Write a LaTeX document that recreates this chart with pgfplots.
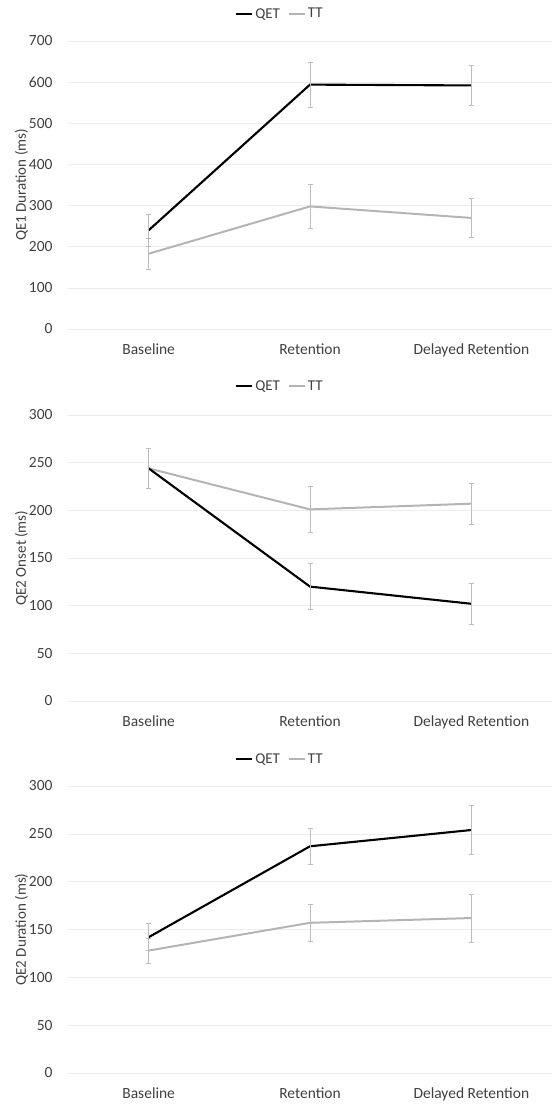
\documentclass[border=0pt]{standalone}
\usepackage{pgfplots}
\pgfplotsset{compat=1.18}
\usepackage{pgfplotstable}
\usepackage{fontspec}
\setmainfont{Carlito}
\definecolor{qet}{HTML}{000000}
\definecolor{tt}{HTML}{B4B4B4}
\definecolor{errc}{HTML}{BDBDBD}
\definecolor{gridc}{HTML}{EDEDED}
\definecolor{labc}{HTML}{404040}

\pgfplotstableread{
x y e
0 240 38
1 594 54
2 592 48
}\qeAqet
\pgfplotstableread{
x y e
0 183 37
1 298 54
2 270 48
}\qeAtt
\pgfplotstableread{
x y e
0 244 21
1 120 24
2 102 21.5
}\qeBqet
\pgfplotstableread{
x y e
0 244 21
1 201 24.5
2 207 21.5
}\qeBtt
\pgfplotstableread{
x y e
0 142 14
1 237 19
2 254 25.5
}\qeCqet
\pgfplotstableread{
x y e
0 128 13
1 157 19
2 162 25
}\qeCtt

\pgfplotsset{
  myaxis/.style={
    scale only axis,
    width=484pt, height=288pt,
    anchor=south west,
    xmin=-0.5, xmax=2.5,
    xtick={0,1,2},
    xticklabels={Baseline,Retention,Delayed Retention},
    ymin=0,
    axis line style={draw=none},
    major tick length=0pt,
    ymajorgrids,
    grid style={gridc, line width=0.6pt},
    tick label style={font=\fontsize{15.5}{17}\selectfont, text=labc},
    ylabel style={font=\fontsize{15}{17}\selectfont, text=labc},
    /pgf/number format/assume math mode=true,
    yticklabel style={xshift=-12pt},
    xticklabel style={yshift=-11pt},
    ylabel shift=-6pt,
    legend style={draw=none, fill=none, at={(axis description cs:0.438,1.094)}, anchor=center,
      font=\fontsize{15}{17}\selectfont, text=labc,
      inner sep=0pt, outer sep=0pt,
      /tikz/every even column/.append style={column sep=6pt}},
    legend columns=2,
    legend image code/.code={\draw[##1] (0pt,0pt) -- (16pt,0pt);},
    legend cell align=left,
    clip=false,
  },
  qetst/.style={qet, line width=2.1pt, no marks, forget plot,
    error bars/.cd, y dir=both, y explicit,
    error bar style={errc, line width=0.6pt},
    error mark options={errc, rotate=90, mark size=2.5pt, line width=0.6pt}},
  ttst/.style={tt, line width=2pt, no marks, forget plot,
    error bars/.cd, y dir=both, y explicit,
    error bar style={errc, line width=0.6pt},
    error mark options={errc, rotate=90, mark size=2.5pt, line width=0.6pt}},
}

\begin{document}
\begin{tikzpicture}
\useasboundingbox (0pt,0pt) rectangle (557pt,-1106pt);

\begin{axis}[myaxis, at={(68pt,-329pt)}, ymax=700, ytick={0,100,...,700},
  ylabel={QE1 Duration (ms)}]
\addplot[ttst] table[x=x,y=y,y error=e] {\qeAtt};
\addplot[qetst] table[x=x,y=y,y error=e] {\qeAqet};
\addlegendimage{qet, line width=2.1pt}
\addlegendentry{QET}
\addlegendimage{tt, line width=2pt}
\addlegendentry{TT}
\end{axis}

\begin{axis}[myaxis, at={(68pt,-701pt)}, height=286pt, ymax=300, ytick={0,50,...,300},
  ylabel={QE2 Onset (ms)}, legend style={at={(axis description cs:0.438,1.10)}}]
\addplot[ttst] table[x=x,y=y,y error=e] {\qeBtt};
\addplot[qetst] table[x=x,y=y,y error=e] {\qeBqet};
\addlegendimage{qet, line width=2.1pt}
\addlegendentry{QET}
\addlegendimage{tt, line width=2pt}
\addlegendentry{TT}
\end{axis}

\begin{axis}[myaxis, at={(68pt,-1073pt)}, height=287pt, ymax=300, ytick={0,50,...,300},
  ylabel={QE2 Duration (ms)}, legend style={at={(axis description cs:0.438,1.094)}}]
\addplot[ttst] table[x=x,y=y,y error=e] {\qeCtt};
\addplot[qetst] table[x=x,y=y,y error=e] {\qeCqet};
\addlegendimage{qet, line width=2.1pt}
\addlegendentry{QET}
\addlegendimage{tt, line width=2pt}
\addlegendentry{TT}
\end{axis}
\end{tikzpicture}
\end{document}
